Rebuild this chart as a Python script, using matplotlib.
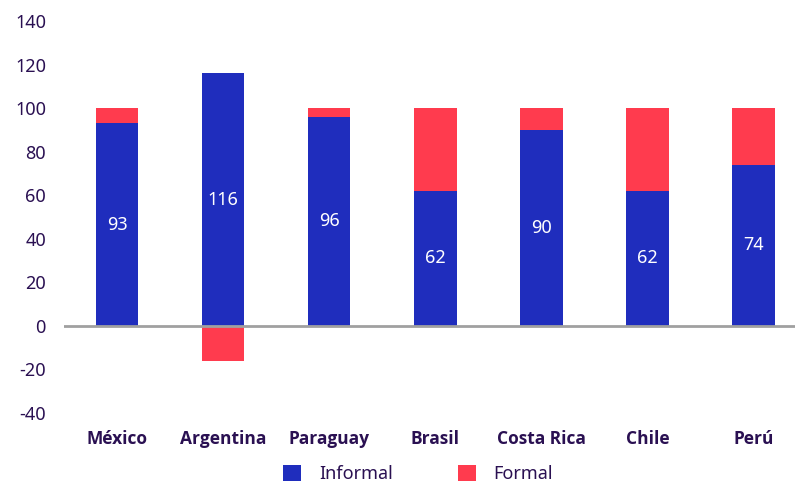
import matplotlib
matplotlib.use("Agg")
import matplotlib.pyplot as plt
import numpy as np

countries = ["México", "Argentina", "Paraguay", "Brasil", "Costa Rica", "Chile", "Perú"]
informal = [93, 116, 96, 62, 90, 62, 74]
formal = [7, -16, 4, 38, 10, 38, 26]

BLUE = "#1f2dbd"
RED = "#ff3b4e"
TEXT = "#2a1052"

plt.rcParams["font.family"] = ["Noto Sans", "DejaVu Sans"]
plt.rcParams["axes.unicode_minus"] = False

fig = plt.figure(figsize=(7.95, 4.82), dpi=100)
ax = fig.add_axes([64 / 795, 69 / 482, 731 / 795, 392 / 482])

x = np.arange(len(countries))
inf = np.array(informal, dtype=float)
frm = np.array(formal, dtype=float)
# positive formal shares stack on top of informal, negative ones hang below zero
bottom_formal = np.where(frm >= 0, inf, 0)

width = 0.4
ax.bar(x, inf, width, color=BLUE, label="Informal", zorder=2)
ax.bar(x, frm, width, bottom=bottom_formal, color=RED, label="Formal", zorder=2)

for xi, v in zip(x, informal):
    ax.text(xi, v / 2, f"{v}", ha="center", va="center", color="white", fontsize=13, zorder=3)

ax.axhline(0, color="#a0a0a0", lw=2, zorder=4)

ax.set_xlim(-0.5, 6.39)
ax.set_ylim(-40, 140)
ax.set_yticks(range(-40, 141, 20))
ax.tick_params(axis="y", length=0, pad=13, labelsize=13, labelcolor=TEXT)
ax.set_xticks(x)
ax.set_xticklabels(countries, family=["Open Sans", "DejaVu Sans"], weight="bold")
ax.tick_params(axis="x", length=0, pad=12, labelsize=12.5, labelcolor=TEXT)
for s in ax.spines.values():
    s.set_visible(False)

fig.legend(loc="center", bbox_to_anchor=(418 / 795, 1 - 474 / 482), ncol=2, frameon=False,
           fontsize=13, labelcolor=TEXT, handlelength=1.0, handleheight=1.0,
           handletextpad=1.0, columnspacing=3.6)

fig.savefig("out.png", dpi=100, facecolor="white")
